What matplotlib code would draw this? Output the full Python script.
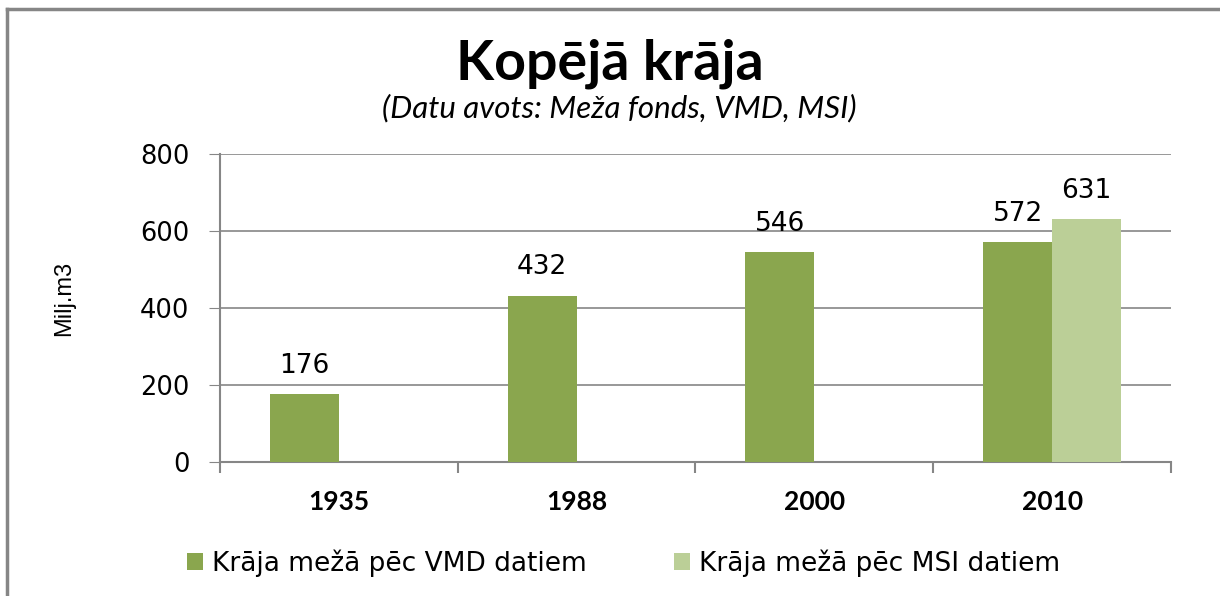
import matplotlib.pyplot as plt
from matplotlib.lines import Line2D
import numpy as np

years = ['1935', '1988', '2000', '2010']
vmd = [176, 432, 546, 572]
msi = [None, None, None, 631]
series_names = ['Krāja mežā pēc VMD datiem', 'Krāja mežā pēc MSI datiem']
title = 'Kopējā krāja'
subtitle = '(Datu avots: Meža fonds, VMD, MSI)'
ylabel = 'Milj.m3'

dark_green = '#8AA64E'
light_green = '#BBCF97'
grey = '#868686'

narrow = ['Lato', 'DejaVu Sans']

fig = plt.figure(figsize=(12.2, 5.96), dpi=100)
ax = fig.add_axes([0.1803, 0.2248, 0.7795, 0.5168])

x = np.arange(len(years))
w = 0.29
ax.bar(x - w / 2, vmd, width=w, color=dark_green, zorder=3, label=series_names[0])
msi_x = [i for i, v in enumerate(msi) if v is not None]
msi_v = [v for v in msi if v is not None]
ax.bar(np.array(msi_x) + w / 2, msi_v, width=w, color=light_green, zorder=3,
       label=series_names[1])

for i, v in enumerate(vmd):
    ax.annotate(str(v), (i - w / 2, v), xytext=(0, 11), textcoords='offset points',
                ha='center', va='bottom', fontsize=19, family='DejaVu Sans')
for i, v in zip(msi_x, msi_v):
    ax.annotate(str(v), (i + w / 2, v), xytext=(0, 11), textcoords='offset points',
                ha='center', va='bottom', fontsize=19, family='DejaVu Sans')

ax.set_xlim(-0.5, len(years) - 0.5)
ax.set_ylim(0, 800)
ax.set_yticks(range(0, 801, 200))
ax.tick_params(axis='y', labelsize=18.5, length=8, color=grey, pad=14)
ax.grid(axis='y', color=grey, linewidth=1.2, zorder=0)

# category boundaries get the tick marks, labels sit in between
ax.set_xticks(np.arange(-0.5, len(years)))
ax.set_xticklabels([])
ax.set_xticks(x, minor=True)
ax.set_xticklabels(years, minor=True, fontsize=19, fontweight='bold', family=narrow)
ax.tick_params(axis='x', which='major', length=8, color=grey, width=1.5)
ax.tick_params(axis='x', which='minor', length=0, pad=20)

for side in ['top', 'right']:
    ax.spines[side].set_visible(False)
for side in ['left', 'bottom']:
    ax.spines[side].set_color(grey)
    ax.spines[side].set_linewidth(1.5)

ax.set_ylabel(ylabel, fontsize=17, family='Liberation Sans')
ax.yaxis.set_label_coords(-0.152, 0.53)

fig.text(0.5, 0.893, title, ha='center', va='center', fontsize=40,
         fontweight='bold', family=narrow)
fig.text(0.508, 0.818, subtitle, ha='center', va='center', fontsize=22.5,
         style='italic', family=narrow)

ax.legend(loc='center', bbox_to_anchor=(0.511, 0.055), bbox_transform=fig.transFigure,
          ncol=2, frameon=False, fontsize=19, handlelength=0.6, handleheight=0.6,
          handletextpad=0.35, columnspacing=3.3)

# chart frame
fig.add_artist(Line2D([0.0057, 0.0057], [0, 0.985], color=grey, linewidth=2.5,
                      transform=fig.transFigure))
fig.add_artist(Line2D([0.0057, 1], [0.985, 0.985], color=grey, linewidth=2.5,
                      transform=fig.transFigure))

fig.savefig('out.png', dpi=100)
